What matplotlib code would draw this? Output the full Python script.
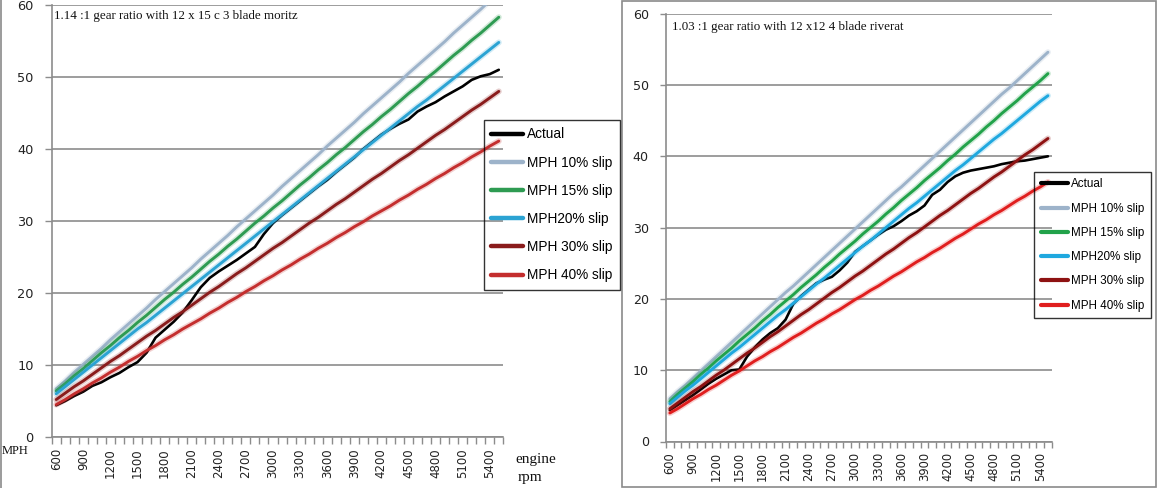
import matplotlib
matplotlib.use("Agg")
import matplotlib.pyplot as plt
import matplotlib.patheffects as pe
from matplotlib.lines import Line2D
from matplotlib.patches import Rectangle
import numpy as np

rpm = list(range(600, 5600, 100))
rpm_labels = [str(r) for r in range(600, 5500, 300)]

series_names = ["Actual", "MPH 10% slip", "MPH 15% slip", "MPH20% slip", "MPH 30% slip", "MPH 40% slip"]

# ---- Left chart: 1.14:1 gear ratio, 12 x 15 3 blade
left_actual = [4.4, 5.0, 5.7, 6.3, 7.1, 7.6, 8.3, 8.9, 9.7, 10.4, 11.7, 13.8, 14.9, 16.0, 17.3, 19.0,
               20.8, 22.1, 23.0, 23.8, 24.6, 25.5, 26.4, 28.2, 29.7, 30.8, 31.8, 32.8, 33.8, 34.8,
               35.7, 36.8, 37.8, 38.8, 40.0, 41.0, 42.0, 42.8, 43.5, 44.1, 45.2, 45.9, 46.5, 47.3,
               48.0, 48.7, 49.6, 50.1, 50.4, 51.0]
left_10 = [6.7, 7.8, 9.0, 10.1, 11.2, 12.3, 13.5, 14.6, 15.7, 16.8, 17.9, 19.1, 20.2, 21.3, 22.4, 23.5,
           24.7, 25.8, 26.9, 28.0, 29.2, 30.3, 31.4, 32.5, 33.6, 34.8, 35.9, 37.0, 38.1, 39.2, 40.4,
           41.5, 42.6, 43.7, 44.9, 46.0, 47.1, 48.2, 49.3, 50.5, 51.6, 52.7, 53.8, 54.9, 56.1, 57.2,
           58.3, 59.4, 60.6, 61.7]
left_15 = [6.4, 7.4, 8.5, 9.5, 10.6, 11.7, 12.7, 13.8, 14.8, 15.9, 16.9, 18.0, 19.1, 20.1, 21.2, 22.2,
           23.3, 24.4, 25.4, 26.5, 27.5, 28.6, 29.7, 30.7, 31.8, 32.8, 33.9, 35.0, 36.0, 37.1, 38.1,
           39.2, 40.2, 41.3, 42.4, 43.4, 44.5, 45.5, 46.6, 47.7, 48.7, 49.8, 50.8, 51.9, 53.0, 54.0,
           55.1, 56.1, 57.2, 58.3]
left_20 = [6.0, 7.0, 8.0, 9.0, 10.0, 11.0, 12.0, 13.0, 14.0, 15.0, 15.9, 16.9, 17.9, 18.9, 19.9, 20.9,
           21.9, 22.9, 23.9, 24.9, 25.9, 26.9, 27.9, 28.9, 29.9, 30.9, 31.9, 32.9, 33.9, 34.9, 35.9,
           36.9, 37.9, 38.9, 39.9, 40.9, 41.9, 42.9, 43.9, 44.9, 45.9, 46.8, 47.8, 48.8, 49.8, 50.8,
           51.8, 52.8, 53.8, 54.8]
left_30 = [5.2, 6.1, 7.0, 7.8, 8.7, 9.6, 10.5, 11.3, 12.2, 13.1, 14.0, 14.8, 15.7, 16.6, 17.4, 18.3,
           19.2, 20.1, 20.9, 21.8, 22.7, 23.5, 24.4, 25.3, 26.2, 27.0, 27.9, 28.8, 29.7, 30.5, 31.4,
           32.3, 33.1, 34.0, 34.9, 35.8, 36.6, 37.5, 38.4, 39.2, 40.1, 41.0, 41.9, 42.7, 43.6, 44.5,
           45.4, 46.2, 47.1, 48.0]
left_40 = [4.5, 5.2, 6.0, 6.7, 7.5, 8.2, 9.0, 9.7, 10.5, 11.2, 12.0, 12.7, 13.5, 14.2, 15.0, 15.7,
           16.4, 17.2, 17.9, 18.7, 19.4, 20.2, 20.9, 21.7, 22.4, 23.2, 23.9, 24.7, 25.4, 26.2, 26.9,
           27.7, 28.4, 29.2, 29.9, 30.7, 31.4, 32.1, 32.9, 33.6, 34.4, 35.1, 35.9, 36.6, 37.4, 38.1,
           38.9, 39.6, 40.4, 41.1]

# ---- Right chart: 1.03:1 gear ratio, 12 x 12 4 blade
right_actual = [4.4, 5.1, 5.8, 6.5, 7.3, 8.1, 8.8, 9.4, 10.0, 10.1, 11.9, 13.2, 14.3, 15.2, 15.9, 17.1,
                19.3, 20.4, 21.3, 22.2, 22.7, 23.1, 24.0, 25.1, 26.6, 27.4, 28.2, 29.0, 29.7, 30.2,
                30.9, 31.7, 32.3, 33.1, 34.6, 35.3, 36.4, 37.2, 37.7, 38.0, 38.2, 38.4, 38.6, 38.9,
                39.1, 39.3, 39.4, 39.6, 39.8, 40.0]
right_10 = [6.0, 7.0, 7.9, 8.9, 9.9, 10.9, 11.9, 12.9, 13.9, 14.9, 15.9, 16.9, 17.9, 18.9, 19.9, 20.9,
            21.8, 22.8, 23.8, 24.8, 25.8, 26.8, 27.8, 28.8, 29.8, 30.8, 31.8, 32.8, 33.8, 34.8, 35.7,
            36.7, 37.7, 38.7, 39.7, 40.7, 41.7, 42.7, 43.7, 44.7, 45.7, 46.7, 47.7, 48.7, 49.6, 50.6,
            51.6, 52.6, 53.6, 54.6]
right_15 = [5.6, 6.6, 7.5, 8.4, 9.4, 10.3, 11.3, 12.2, 13.1, 14.1, 15.0, 15.9, 16.9, 17.8, 18.8, 19.7,
            20.6, 21.6, 22.5, 23.4, 24.4, 25.3, 26.3, 27.2, 28.1, 29.1, 30.0, 30.9, 31.9, 32.8, 33.8,
            34.7, 35.6, 36.6, 37.5, 38.4, 39.4, 40.3, 41.3, 42.2, 43.1, 44.1, 45.0, 46.0, 46.9, 47.8,
            48.8, 49.7, 50.6, 51.6]
right_20 = [5.3, 6.2, 7.1, 7.9, 8.8, 9.7, 10.6, 11.5, 12.4, 13.2, 14.1, 15.0, 15.9, 16.8, 17.7, 18.5,
            19.4, 20.3, 21.2, 22.1, 22.9, 23.8, 24.7, 25.6, 26.5, 27.4, 28.2, 29.1, 30.0, 30.9, 31.8,
            32.7, 33.5, 34.4, 35.3, 36.2, 37.1, 38.0, 38.8, 39.7, 40.6, 41.5, 42.4, 43.2, 44.1, 45.0,
            45.9, 46.8, 47.7, 48.5]
right_30 = [4.6, 5.4, 6.2, 7.0, 7.7, 8.5, 9.3, 10.0, 10.8, 11.6, 12.4, 13.1, 13.9, 14.7, 15.4, 16.2,
            17.0, 17.8, 18.5, 19.3, 20.1, 20.9, 21.6, 22.4, 23.2, 23.9, 24.7, 25.5, 26.3, 27.0, 27.8,
            28.6, 29.3, 30.1, 30.9, 31.7, 32.4, 33.2, 34.0, 34.8, 35.5, 36.3, 37.1, 37.8, 38.6, 39.4,
            40.2, 40.9, 41.7, 42.5]
right_40 = [4.0, 4.6, 5.3, 6.0, 6.6, 7.3, 7.9, 8.6, 9.3, 9.9, 10.6, 11.3, 11.9, 12.6, 13.2, 13.9,
            14.6, 15.2, 15.9, 16.6, 17.2, 17.9, 18.5, 19.2, 19.9, 20.5, 21.2, 21.8, 22.5, 23.2, 23.8,
            24.5, 25.2, 25.8, 26.5, 27.1, 27.8, 28.5, 29.1, 29.8, 30.5, 31.1, 31.8, 32.4, 33.1, 33.8,
            34.4, 35.1, 35.7, 36.4]

left_title = "1.14 :1 gear ratio with 12 x 15 c 3 blade moritz"
right_title = "1.03 :1 gear ratio with 12 x12 4 blade riverat"

left_colors = ["#000000", "#9DB3CA", "#2E9B52", "#2BA3D3", "#8A1C1C", "#C42E2E"]
right_colors = ["#000000", "#9DB3CA", "#22A24A", "#1FA8DF", "#8E1212", "#E01E1E"]

W, H = 1157, 488
fig = plt.figure(figsize=(W / 100, H / 100), dpi=100)
fig.patch.set_facecolor("white")

GRID = "#8C8C8C"


def px_rect(x0, x1, y_top, y_bot):
    return [x0 / W, 1 - y_bot / H, (x1 - x0) / W, (y_bot - y_top) / H]


def draw_chart(rect, data, colors, lab_size, tick_len):
    ax = fig.add_axes(rect)
    x = np.arange(len(rpm))
    lines = []
    for name, vals, c in zip(series_names, data, colors):
        lw = 1.9 if name == "Actual" else 2.1
        ln, = ax.plot(x, vals, color=c, lw=lw, solid_capstyle="round", zorder=3, label=name)
        if name != "Actual":
            ln.set_path_effects([pe.Stroke(linewidth=lw + 2.2, foreground=c, alpha=0.22), pe.Normal()])
        lines.append(ln)
    ax.set_xlim(-0.5, len(rpm) - 0.5)
    ax.set_ylim(0, 60)
    ax.set_yticks(range(0, 61, 10))
    ax.set_yticklabels([str(v) for v in range(0, 61, 10)], fontsize=lab_size + 0.8, color="#222222",
                       family="DejaVu Sans")
    ax.yaxis.grid(True, color=GRID, lw=1.2)
    ax.set_axisbelow(True)
    # category boundary tick marks
    ax.set_xticks(np.arange(-0.5, len(rpm), 1))
    ax.set_xticklabels([])
    ax.set_xticks(np.arange(0, len(rpm), 3), minor=True)
    ax.set_xticklabels(rpm_labels, minor=True, rotation=90, fontsize=lab_size, color="#222222",
                       family="DejaVu Sans")
    ax.tick_params(axis="x", which="major", length=tick_len, width=1, color=GRID, direction="out")
    ax.tick_params(axis="x", which="minor", length=0, pad=tick_len + 3)
    ax.tick_params(axis="y", length=tick_len, width=1, color=GRID, pad=8)
    for s in ("top", "right"):
        ax.spines[s].set_visible(False)
    for s in ("left", "bottom"):
        ax.spines[s].set_color(GRID)
        ax.spines[s].set_linewidth(1.2)
    ax.set_facecolor("none")
    return ax, lines


# left chart
axL, linesL = draw_chart(px_rect(51.7, 503.3, 5, 437),
                         [left_actual, left_10, left_15, left_20, left_30, left_40],
                         left_colors, 8.5, 5)
legL = fig.legend(handles=linesL, loc="upper left", bbox_to_anchor=(484 / W, 1 - 120 / H),
                  bbox_transform=fig.transFigure, borderaxespad=0, frameon=True, fancybox=False,
                  prop={"family": "Liberation Sans", "size": 9.8}, handlelength=2.3,
                  handletextpad=0.3, labelspacing=1.04, borderpad=0.55)
legL.get_frame().set_edgecolor("black")
legL.get_frame().set_facecolor("none")
legL.get_frame().set_linewidth(1.0)
for h in legL.legend_handles:
    h.set_linewidth(3.2)
    h.set_path_effects([])

fig.text(54 / W, 1 - 16 / H, left_title, family="Liberation Serif", fontsize=9.4, va="center",
         ha="left", color="#111111")
fig.text(2 / W, 1 - 451 / H, "MPH", family="Liberation Serif", fontsize=9.0, va="center", ha="left",
         color="#111111")
fig.text(515 / W, 1 - 460 / H, "engine", family="Liberation Serif", fontsize=11, va="center",
         ha="left", color="#111111")
fig.text(518 / W, 1 - 477 / H, "rpm", family="Liberation Serif", fontsize=11, va="center",
         ha="left", color="#111111")

# right chart
axR, linesR = draw_chart(px_rect(666, 1051.8, 13.7, 441.5),
                         [right_actual, right_10, right_15, right_20, right_30, right_40],
                         right_colors, 8.3, 4.5)
legR = fig.legend(handles=linesR, loc="upper left", bbox_to_anchor=(1034 / W, 1 - 171.7 / H),
                  bbox_transform=fig.transFigure, borderaxespad=0, frameon=True, fancybox=False,
                  prop={"family": "Liberation Sans", "size": 8.4}, handlelength=2.3,
                  handletextpad=0.3, labelspacing=1.05, borderpad=0.58)
legR.get_frame().set_edgecolor("black")
legR.get_frame().set_facecolor("none")
legR.get_frame().set_linewidth(1.0)
for h in legR.legend_handles:
    h.set_linewidth(3.0)
    h.set_path_effects([])

fig.text(671.5 / W, 1 - 27 / H, right_title, family="Liberation Serif", fontsize=9.4, va="center",
         ha="left", color="#111111")

# frames
fig.add_artist(Line2D([1 / W, 1 / W], [0, 1], color="#8A8A8A", lw=1.2))
fig.add_artist(Rectangle((622 / W, 1 / H), (1156 - 622) / W, (487.5 - 1) / H, fill=False,
                         edgecolor="#8A8A8A", lw=1.2, transform=fig.transFigure))

fig.savefig("out.png", dpi=100)
